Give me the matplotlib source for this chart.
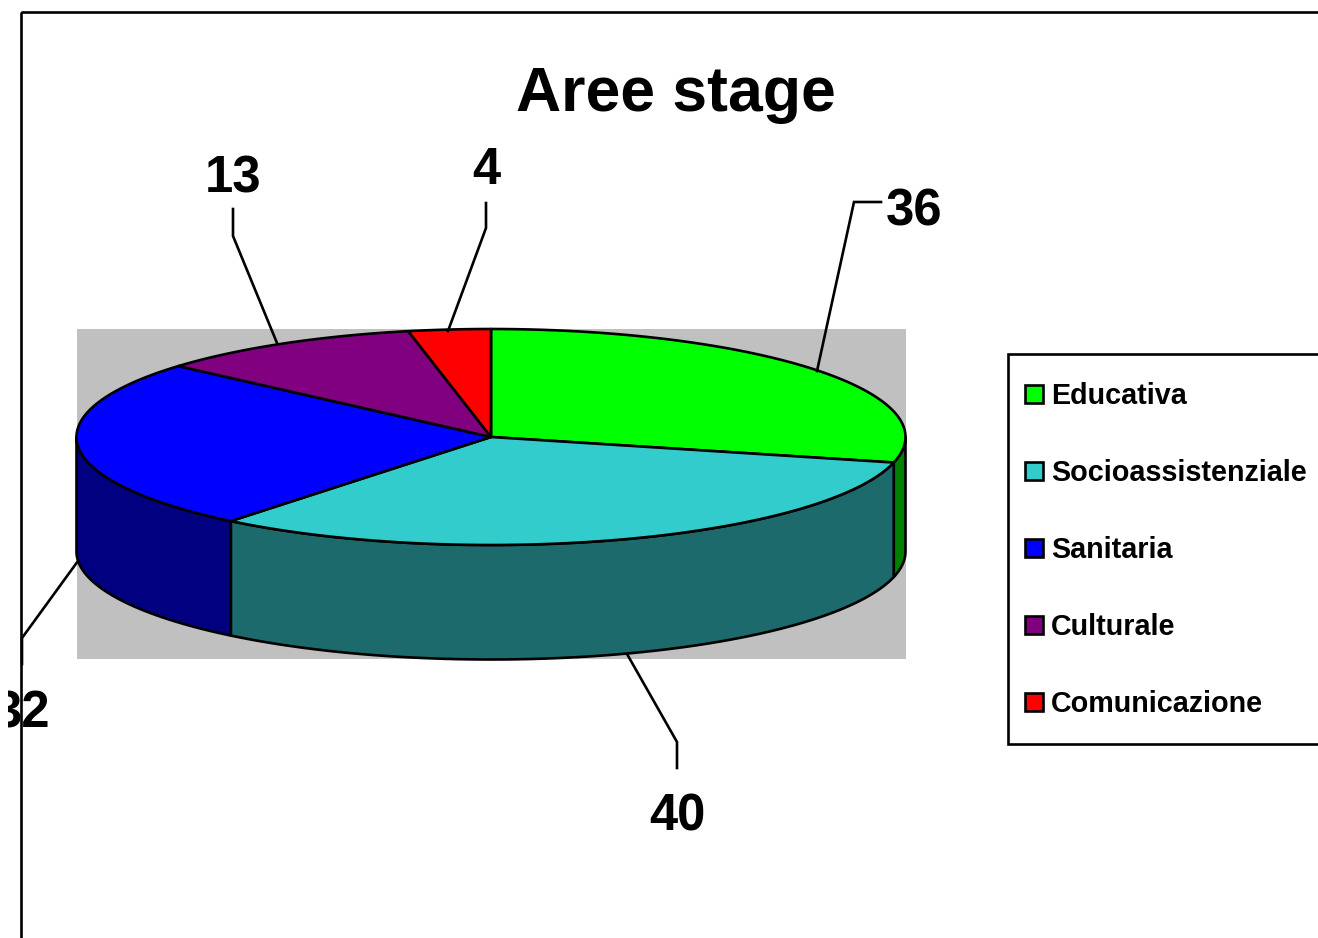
import numpy as np
import matplotlib
matplotlib.use("Agg")
import matplotlib.pyplot as plt
from matplotlib.patches import Polygon, Rectangle

plt.rcParams['font.family'] = ['Liberation Sans', 'DejaVu Sans']

categories = ["Educativa", "Socioassistenziale", "Sanitaria", "Culturale", "Comunicazione"]
values = [36, 40, 32, 13, 4]
top_colors = ["#00FF00", "#33CCCC", "#0000FF", "#800080", "#FF0000"]
side_colors = ["#008000", "#1C6A6B", "#000080", "#400040", "#800000"]

# pie geometry in pixels
CX, CY = 491, 437
RX, RY = 414.5, 108
DEPTH = 114.5
LW = 1.9

fig = plt.figure(figsize=(13.18, 9.38), dpi=100)
ax = fig.add_axes([0, 0, 1, 1])
ax.set_xlim(0, 1318)
ax.set_ylim(938, 0)
ax.axis("off")


def rim(a, b, dy=0.0):
    # points on the ellipse, angles in degrees clockwise from the top
    t = np.radians(np.linspace(a, b, max(int(abs(b - a) * 2), 2)))
    return np.column_stack([CX + RX * np.sin(t), CY + dy - RY * np.cos(t)])


# grey back wall
ax.add_patch(Rectangle((77, 329), 829, 330, fc="#C0C0C0", ec="none", zorder=1))

edges = np.cumsum([0] + values) / sum(values) * 360

# side walls, only the front half (90..270) shows
for i in range(len(values)):
    a, b = max(edges[i], 90), min(edges[i + 1], 270)
    if a < b:
        pts = np.vstack([rim(a, b), rim(a, b, DEPTH)[::-1]])
        ax.add_patch(Polygon(pts, fc=side_colors[i], ec="black", lw=LW, joinstyle="round", zorder=2))

# top faces
for i in range(len(values)):
    pts = np.vstack([[[CX, CY]], rim(edges[i], edges[i + 1])])
    ax.add_patch(Polygon(pts, fc=top_colors[i], ec="black", lw=LW, joinstyle="round", zorder=3))

# leader lines
leaders = [
    ([817, 854, 881], [371, 202, 202]),
    ([627, 677, 677], [654, 742, 768]),
    ([78, 22, 22], [561, 638, 664]),
    ([277, 233, 233], [343, 236, 209]),
    ([448, 486, 486], [331, 228, 203]),
]
for xs, ys in leaders:
    ax.plot(xs, ys, color="black", lw=LW, zorder=4, solid_joinstyle="miter")

# value labels
label_pos = [(914.5, 212), (677.5, 817), (22.5, 714), (233.5, 179), (486, 171)]
for v, (x, y) in zip(values, label_pos):
    ax.text(x, y, str(v), ha="center", va="center", fontsize=36.5, fontweight="bold", zorder=5)

# chart area is cut off on the left
ax.add_patch(Rectangle((0, 0), 8, 938, fc="white", ec="none", zorder=6))

# frame runs off the right and bottom edge
ax.add_patch(Rectangle((20.5, 12.5), 1400, 1000, fc="none", ec="black", lw=LW, zorder=7))

ax.text(675.5, 94, "Aree stage", ha="center", va="center", fontsize=45, fontweight="bold", zorder=5)

# legend
ax.add_patch(Rectangle((1007.5, 354.5), 400, 390, fc="white", ec="black", lw=LW, zorder=5))
for i, name in enumerate(categories):
    y = 394 + 77 * i
    ax.add_patch(Rectangle((1025, y - 9), 18, 18, fc=top_colors[i], ec="black", lw=LW, zorder=6))
    ax.text(1051, y + 2, name, ha="left", va="center", fontsize=20.7, fontweight="bold", zorder=6)

fig.savefig("out.png", dpi=100)
